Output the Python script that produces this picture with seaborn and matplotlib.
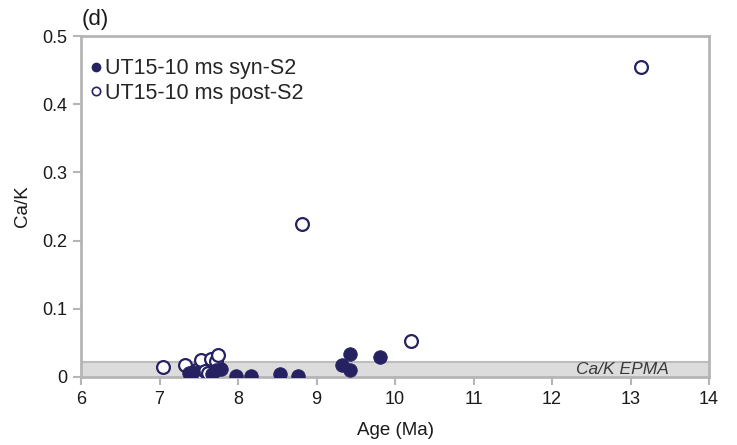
import numpy as np
import pandas as pd
import matplotlib
matplotlib.use("Agg")
import matplotlib.pyplot as plt
import seaborn as sns
from matplotlib.lines import Line2D

# Ca/K ratios versus age for white mica, sample UT15-10
syn_age = [7.38, 7.43, 7.67, 7.72, 7.78, 7.98, 8.17, 8.53, 8.77, 9.33, 9.42, 9.43, 9.81]
syn_cak = [0.006, 0.007, 0.005, 0.010, 0.012, 0.002, 0.002, 0.004, 0.002, 0.017, 0.034, 0.010, 0.029]

post_age = [7.05, 7.33, 7.47, 7.50, 7.53, 7.58, 7.62, 7.65, 7.72, 7.75, 8.82, 10.20, 13.13]
post_cak = [0.014, 0.017, 0.010, 0.006, 0.025, 0.009, 0.006, 0.027, 0.024, 0.032, 0.225, 0.052, 0.454]

epma_range = [0.0, 0.022]
x_ticks = [6, 7, 8, 9, 10, 11, 12, 13, 14]
y_ticks = [0, 0.1, 0.2, 0.3, 0.4, 0.5]
y_ticklabels = ["0", "0.1", "0.2", "0.3", "0.4", "0.5"]

syn_df = pd.DataFrame({"Age": syn_age, "CaK": syn_cak})
post_df = pd.DataFrame({"Age": post_age, "CaK": post_cak})

sns.set_theme(style="white")
plt.rcParams["font.family"] = ["Liberation Sans", "DejaVu Sans"]

navy = "#262262"
frame = "#b5b5b5"
ink = "#1a1a1a"

fig = plt.figure(figsize=(7.37, 4.45), dpi=100)
ax = fig.add_axes([0.110, 0.153, 0.852, 0.766])

# EPMA reference band
ax.axhspan(epma_range[0], epma_range[1], facecolor="#dcdcdd", edgecolor="none", zorder=0)
ax.axhline(epma_range[1], color="#bdbdbd", lw=1.5, zorder=0.5)
ax.text(12.9, 0.0105, "Ca/K EPMA", style="italic", fontsize=12.5, color="#3a3a3a",
        ha="center", va="center", zorder=1)

sns.scatterplot(data=post_df, x="Age", y="CaK", ax=ax, s=85, marker="o",
                facecolor="white", edgecolor=navy, linewidth=1.6, zorder=3)
sns.scatterplot(data=syn_df, x="Age", y="CaK", ax=ax, s=95, marker="o",
                color=navy, edgecolor=navy, linewidth=0.6, zorder=4)

ax.set_xlim(6, 14)
ax.set_ylim(0, 0.5)
ax.set_xticks(x_ticks)
ax.set_yticks(y_ticks)
ax.set_yticklabels(y_ticklabels)
ax.tick_params(axis="both", which="major", labelsize=13, length=6, width=1.5,
               color=frame, labelcolor=ink, direction="out", pad=4,
               bottom=True, left=True)
for sp in ax.spines.values():
    sp.set_color(frame)
    sp.set_linewidth(2)

ax.set_xlabel("Age (Ma)", fontsize=13.5, color=ink, labelpad=10)
ax.set_ylabel("Ca/K", fontsize=13.5, color=ink, labelpad=8)

handles = [
    Line2D([], [], marker="o", linestyle="none", markersize=6,
           markerfacecolor=navy, markeredgecolor=navy, label="UT15-10 ms syn-S2"),
    Line2D([], [], marker="o", linestyle="none", markersize=6, markeredgewidth=1.2,
           markerfacecolor="white", markeredgecolor=navy, label="UT15-10 ms post-S2"),
]
ax.legend(handles=handles, loc="upper left", bbox_to_anchor=(-0.012, 0.985), frameon=False,
          fontsize=15.5, handlelength=0.5, handletextpad=0.15, labelspacing=0.15,
          borderaxespad=0.4)

fig.text(0.111, 0.932, "(d)", fontsize=16, color=ink, ha="left", va="bottom")

fig.savefig("out.png", dpi=100)
